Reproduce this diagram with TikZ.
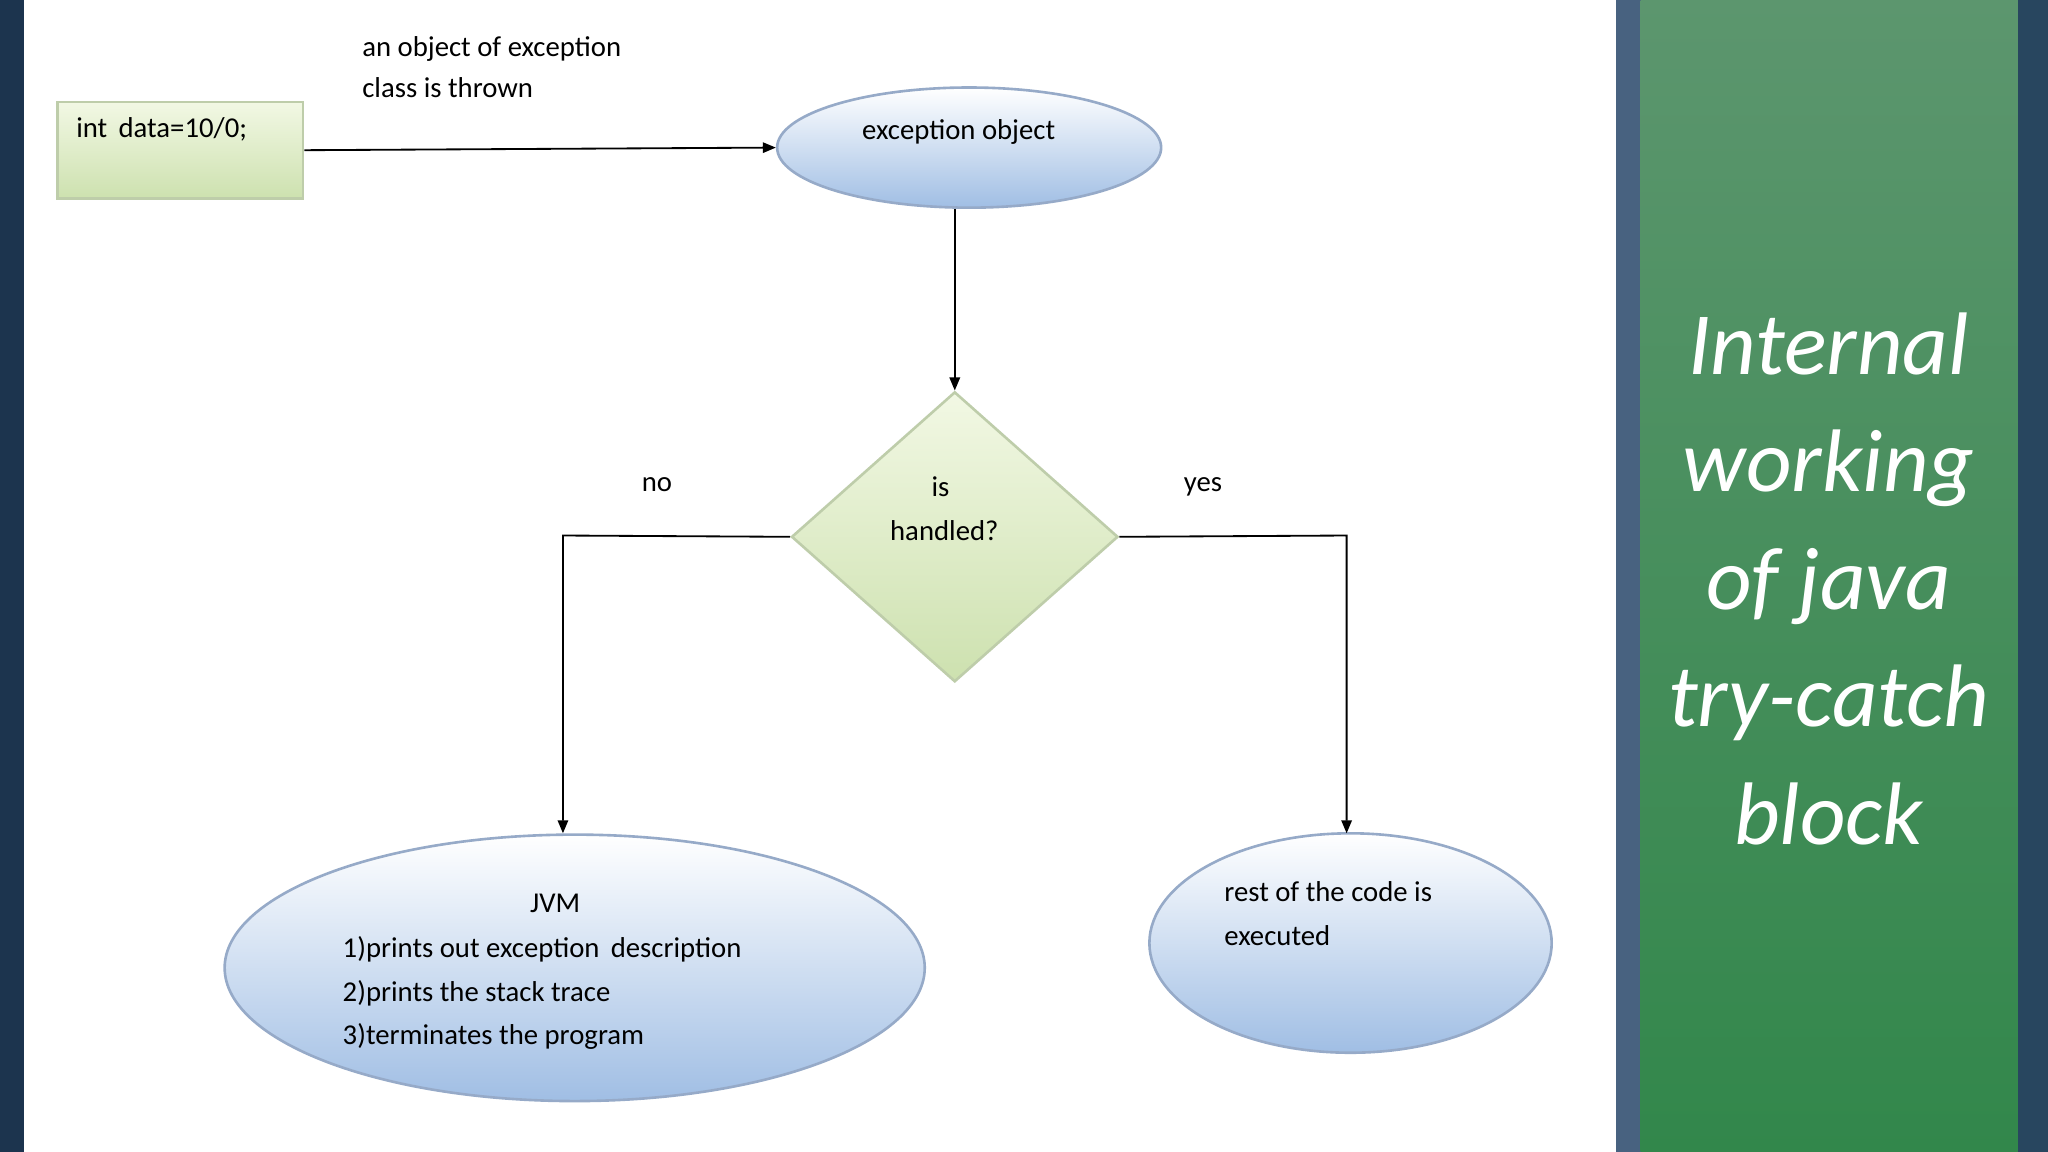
\documentclass[tikz,border=0pt]{standalone}
\usepackage{fontspec}
\setmainfont{Carlito}
\usetikzlibrary{shapes.geometric,arrows.meta}
\definecolor{navy}{RGB}{28,52,78}
\definecolor{strip}{RGB}{72,98,128}
\definecolor{gtop}{RGB}{92,150,110}
\definecolor{gbot}{RGB}{50,135,75}
\definecolor{edge}{RGB}{40,70,95}
\definecolor{ovbot}{RGB}{160,190,228}
\definecolor{ovline}{RGB}{150,170,200}
\definecolor{grline}{RGB}{190,205,170}
\definecolor{grtop}{RGB}{242,248,228}
\definecolor{grbot}{RGB}{205,225,175}
\begin{document}
\begin{tikzpicture}[x=0.5pt,y=-0.5pt,
  lbl/.style={font=\fontsize{11}{13}\selectfont, inner sep=0pt, anchor=base west},
  conn/.style={draw=black, line width=0.7pt, -{Triangle[length=5pt,width=4pt]}},
  oval/.style={ellipse, draw=ovline, line width=1pt, top color=white, bottom color=ovbot},
  panel/.style={font=\fontsize{34}{45}\selectfont\itshape, text=white, align=center}]
\useasboundingbox (0,0) rectangle (1568,882);
\fill[navy] (0,0) rectangle (1568,882);
\fill[white] (18,0) rectangle (1237,882);
\fill[strip] (1237,0) rectangle (1256,882);
\shade[top color=gtop, bottom color=gbot] (1256,0) rectangle (1545,882);
\fill[edge] (1545,0) rectangle (1568,882);
% nodes
\node[draw=grline, line width=1pt, top color=grtop, bottom color=grbot, minimum width=94pt, minimum height=37pt, anchor=north west] (box) at (43,77) {};
\node[lbl] (boxt) at (58,105) {int\, data=10/0;};
\node[oval, minimum width=147pt, minimum height=46pt, inner sep=0pt] (exc) at (742,113) {};
\node[lbl, anchor=base] (exct) at (734,107) {exception object};
\node[diamond, draw=grline, line width=1pt, top color=grtop, bottom color=grbot, minimum width=125pt, minimum height=111pt, inner sep=0pt] (dia) at (731,411) {};
\node[lbl, anchor=base] at (720,380) {is};
\node[lbl, anchor=base] at (723,414) {handled?};
\node[oval, minimum width=268pt, minimum height=102pt, inner sep=0pt] (jvm) at (440,741) {};
\node[lbl, anchor=base] at (425,699) {JVM};
\node[lbl] at (262,733) {1)prints out exception\, description};
\node[lbl] at (262,767) {2)prints the stack trace};
\node[lbl] at (262,800) {3)terminates the program};
\node[oval, minimum width=154pt, minimum height=84pt, inner sep=0pt] (rest) at (1034,722) {};
\node[lbl] at (937,690) {rest of the code is};
\node[lbl] at (937,724) {executed};
\node[lbl] at (277,43) {an object of exception};
\node[lbl] at (277,75) {class is thrown};
\node[lbl, anchor=base] at (503,376) {no};
\node[lbl, anchor=base] at (921,376) {yes};
\coordinate (cl) at (431,410);
\coordinate (cr) at (1031,410);
\draw[conn] (box.east) -- (exc.west);
\draw[conn] (exc.south -| 731,0) -- (dia.north);
\draw[conn] (dia.west) -- (cl) -- (431,638);
\draw[conn] (dia.east) -- (cr) -- (1031,638);
\node[panel] (title) at (1400,443) {Internal\\working\\of java\\try-catch\\block};
\end{tikzpicture}
\end{document}
